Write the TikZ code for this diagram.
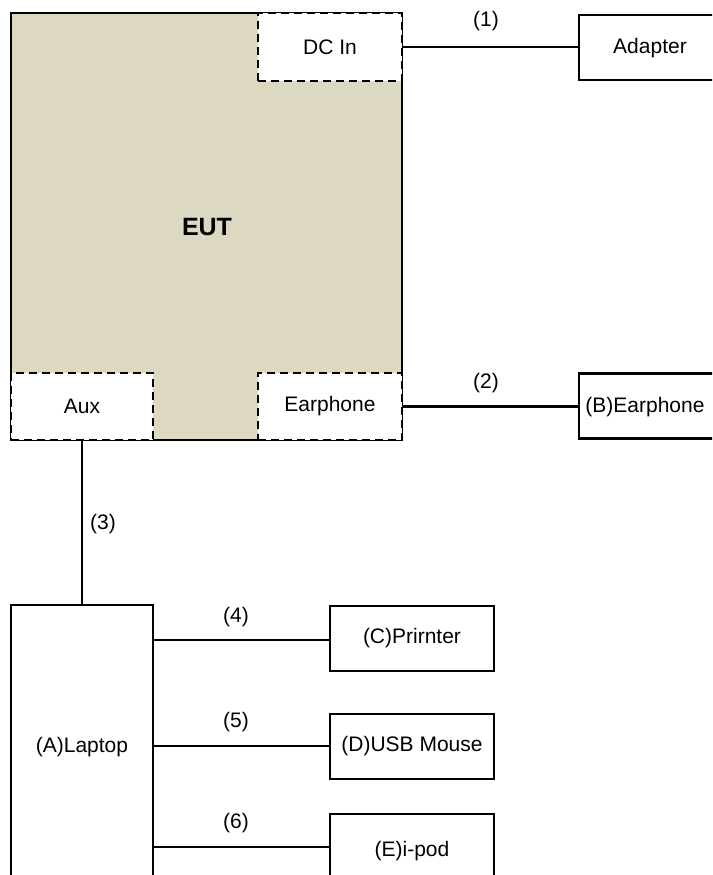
\documentclass[tikz,border=0pt]{standalone}
\usepackage{fontspec}
\setmainfont{Liberation Sans}
\begin{document}
\begin{tikzpicture}[x=1pt,y=-1pt,
  every node/.style={font=\fontsize{21}{25}\selectfont, inner sep=0pt, outer sep=0pt},
  box/.style={draw, line width=2.6pt, fill=white, rectangle},
  port/.style={draw, line width=2.6pt, fill=white, rectangle, dash pattern=on 8pt off 5pt},
  wire/.style={line width=2.2pt},
  lbl/.style={anchor=center}]
\definecolor{eutfill}{RGB}{221,216,194}
\useasboundingbox (0,0) rectangle (712,875);
\clip (0,0) rectangle (712,875);
% EUT
\node[box, fill=eutfill, minimum width=391pt, minimum height=427pt] (eut) at (206.5,226.5) {};
\node[font=\fontsize{25}{30}\selectfont\bfseries] (euttxt) at (207,227) {EUT};
\node[port, minimum width=144pt, minimum height=68pt] (dcin) at (330,47) {DC In};
\node[port, minimum width=142pt, minimum height=67pt] (aux) at (82,406.5) {Aux};
\node[port, minimum width=144pt, minimum height=67pt] (earph) at (330,406.5) {Earphone};
% peripherals
\node[box, minimum width=170pt, minimum height=65pt, anchor=west] (adapter) at (579,47.5) {};
\node (adtxt) at (650,48) {Adapter};
\node[box, minimum width=170pt, minimum height=65pt, anchor=west] (bear) at (579,406) {};
\node (beartxt) at (645,407) {(B)Earphone};
\node[box, minimum width=142pt, minimum height=300pt, anchor=north] (laptop) at (82,605) {};
\node (laptxt) at (82,747) {(A)Laptop};
\node[box, minimum width=164pt, minimum height=65pt] (printer) at (412,638.5) {(C)Prirnter};
\node[box, minimum width=164pt, minimum height=65pt] (mouse) at (412,746.5) {(D)USB Mouse};
\node[box, minimum width=164pt, minimum height=70pt, anchor=north] (ipod) at (412,814) {};
\node (ipodtxt) at (412,851) {(E)i-pod};
% connectors
\draw[wire] (dcin.east) -- (adapter.west |- dcin.east);
\draw[wire] (earph.east) -- (bear.west |- earph.east);
\draw[wire] (aux.south) -- (laptop.north);
\coordinate (c4) at (153,640);
\coordinate (c5) at (153,746);
\coordinate (c6) at (153,847);
\draw[wire] (c4) -- (printer.west |- c4);
\draw[wire] (c5) -- (mouse.west |- c5);
\draw[wire] (c6) -- (ipod.west |- c6);
% labels
\node[lbl] (l1) at (486,21) {(1)};
\node[lbl] (l2) at (486,383) {(2)};
\node[lbl] (l3) at (103,524) {(3)};
\node[lbl] (l4) at (236,617) {(4)};
\node[lbl] (l5) at (236,722) {(5)};
\node[lbl] (l6) at (236,823) {(6)};
\end{tikzpicture}
\end{document}
